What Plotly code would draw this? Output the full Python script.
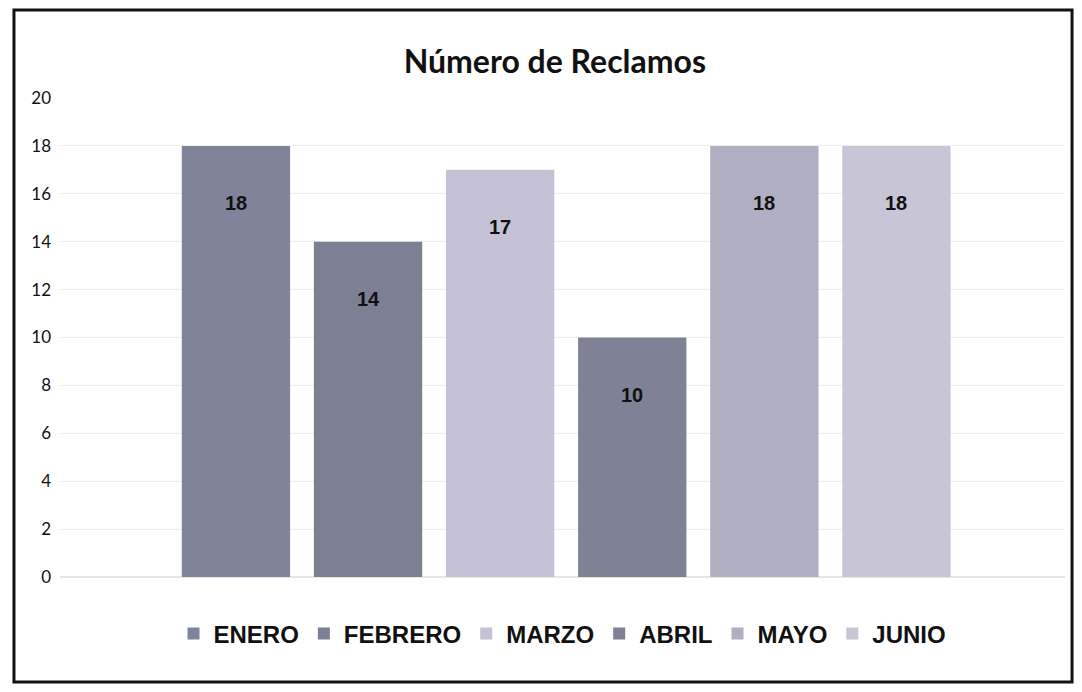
import plotly.graph_objects as go

MONTHS = ["ENERO", "FEBRERO", "MARZO", "ABRIL", "MAYO", "JUNIO"]
RECLAMOS = [18, 14, 17, 10, 18, 18]
Y_TICKS = [0, 2, 4, 6, 8, 10, 12, 14, 16, 18, 20]

COLORS = ["#80849a", "#7c8092", "#c4c2d4", "#7e8294", "#b0afc2", "#c8c6d6"]

fig = go.Figure()
for month, value, color in zip(MONTHS, RECLAMOS, COLORS):
    fig.add_trace(go.Bar(
        x=[month],
        y=[value],
        name=month,
        width=0.82,
        marker=dict(color=color, line=dict(width=0)),
        hovertemplate="%{x}: %{y}<extra></extra>",
    ))

# data labels sit a little below the top of each bar
for month, value in zip(MONTHS, RECLAMOS):
    fig.add_annotation(
        x=month, y=value, text=str(value),
        yanchor="top", yshift=-44, showarrow=False,
        font=dict(family="Liberation Sans, Arial, sans-serif", size=20,
                  color="#111111", weight="bold"),
    )

# outer frame of the scanned chart
fig.add_shape(
    type="rect", xref="paper", yref="paper",
    x0=-0.0458, x1=1.007, y0=-0.2192, y1=1.1837,
    line=dict(color="#111111", width=3),
)

# page body adds an 8px margin, so the figure is a bit smaller than the window
fig.update_layout(
    width=1066,
    height=676,
    paper_bgcolor="white",
    plot_bgcolor="white",
    barmode="overlay",
    margin=dict(l=52, r=9, t=90, b=107),
    font=dict(family="Lato, Open Sans, sans-serif", color="#222222"),
    title=dict(
        text="Número de Reclamos",
        x=0.513, xanchor="center",
        y=0.92, yanchor="middle",
        font=dict(size=32, color="#111111", weight="bold"),
    ),
    xaxis=dict(
        type="category",
        categoryorder="array",
        categoryarray=MONTHS,
        range=[-1.332, 6.276],
        showticklabels=False,
        showgrid=False,
        zeroline=False,
        showline=False,
        ticks="",
    ),
    yaxis=dict(
        range=[0, 20],
        tickvals=Y_TICKS,
        tickfont=dict(size=17, color="#111111"),
        gridcolor="#eeeeee",
        gridwidth=1,
        zeroline=True,
        zerolinecolor="#e6e6e6",
        showline=False,
        ticklabelstandoff=8,
    ),
    showlegend=True,
    legend=dict(
        orientation="h",
        x=0.5, xanchor="center",
        y=-0.119, yanchor="middle",
        font=dict(family="Liberation Sans, Arial, sans-serif", size=24,
                  color="#111111", weight="bold"),
        itemwidth=30,
        itemclick=False,
    ),
)

fig.write_html("out.html")
